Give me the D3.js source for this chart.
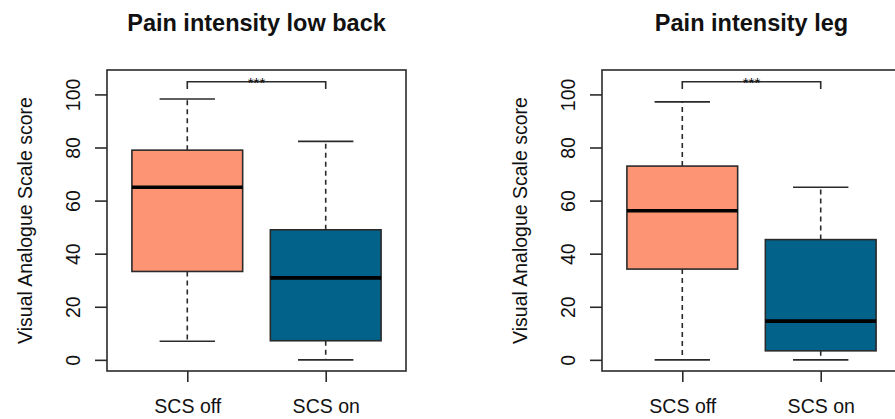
<!DOCTYPE html>
<html>
<head>
<meta charset="utf-8">
<script src="https://cdn.jsdelivr.net/npm/d3@7"></script>
<style>
  body { margin: 0; background: #fff; }
  svg text { font-family: "Liberation Sans", Arial, sans-serif; fill: #111; }
</style>
</head>
<body>
<div id="chart"></div>
<script>
// data
const groups = ["SCS off", "SCS on"];
const panelTitles = ["Pain intensity low back", "Pain intensity leg"];
const yLabel = "Visual Analogue Scale score";
const yTicks = [0, 20, 40, 60, 80, 100];
const sigLabel = "***";

// [lower whisker, Q1, median, Q3, upper whisker] per group
const lowBackStats = [[7, 33.3, 65, 79, 98.3], [0, 7.2, 30.9, 49, 82.3]];
const legStats = [[0, 34.2, 56.2, 73, 97.2], [0, 3.4, 14.6, 45.3, 65]];
const panelStats = [lowBackStats, legStats];

const boxColors = ["#fd9574", "#02628a"];

const width = 895, height = 419;
const plotW = 299, plotH = 301;
const plotTop = 70;
const plotLefts = [107, 602];
const lineCol = "#2a2a2a";
const lw = 1.6;

const svg = d3.select("#chart")
  .append("svg")
  .attr("width", width)
  .attr("height", height);

svg.append("rect").attr("width", width).attr("height", height).attr("fill", "#fff");

// R style: xlim 0.5..2.5, ylim 0..105, each padded 4%
const x = d3.scaleLinear().domain([0.42, 2.58]).range([0, plotW]);
const y = d3.scaleLinear().domain([-4.2, 109.2]).range([plotH, 0]);

panelStats.forEach((stats, p) => {
  const g = svg.append("g")
    .attr("transform", "translate(" + plotLefts[p] + "," + plotTop + ")");

  // title
  svg.append("text")
    .attr("x", plotLefts[p] + plotW / 2)
    .attr("y", 31)
    .attr("text-anchor", "middle")
    .attr("font-weight", "bold")
    .attr("font-size", "23.5px")
    .text(panelTitles[p]);

  // y axis title
  svg.append("text")
    .attr("transform", "translate(" + (plotLefts[p] - 75) + "," + (plotTop + plotH / 2) + ") rotate(-90)")
    .attr("text-anchor", "middle")
    .attr("font-size", "19.5px")
    .attr("fill", "#222")
    .text(yLabel);

  // boxes
  stats.forEach((s, i) => {
    const cx = x(i + 1);
    const bw = x(0.8) - x(0);
    const cw = x(0.4) - x(0);
    const box = g.append("g");

    // whiskers
    box.append("line")
      .attr("x1", cx).attr("x2", cx)
      .attr("y1", y(s[3])).attr("y2", y(s[4]))
      .attr("stroke", lineCol).attr("stroke-width", lw)
      .attr("stroke-dasharray", "5,4");
    box.append("line")
      .attr("x1", cx).attr("x2", cx)
      .attr("y1", y(s[1])).attr("y2", y(s[0]))
      .attr("stroke", lineCol).attr("stroke-width", lw)
      .attr("stroke-dasharray", "5,4");

    // caps
    [s[0], s[4]].forEach(v => {
      box.append("line")
        .attr("x1", cx - cw / 2).attr("x2", cx + cw / 2)
        .attr("y1", y(v)).attr("y2", y(v))
        .attr("stroke", lineCol).attr("stroke-width", lw);
    });

    box.append("rect")
      .attr("x", cx - bw / 2)
      .attr("y", y(s[3]))
      .attr("width", bw)
      .attr("height", y(s[1]) - y(s[3]))
      .attr("fill", boxColors[i])
      .attr("stroke", lineCol)
      .attr("stroke-width", lw);

    // median
    box.append("line")
      .attr("x1", cx - bw / 2).attr("x2", cx + bw / 2)
      .attr("y1", y(s[2])).attr("y2", y(s[2]))
      .attr("stroke", "#000").attr("stroke-width", 3.6);
  });

  // significance bracket
  g.append("path")
    .attr("d", "M" + x(1) + "," + y(102) + "V" + y(104.8) + "H" + x(2) + "V" + y(102))
    .attr("fill", "none")
    .attr("stroke", lineCol)
    .attr("stroke-width", lw);
  g.append("text")
    .attr("x", (x(1) + x(2)) / 2)
    .attr("y", y(104.8) + 6.5)
    .attr("text-anchor", "middle")
    .attr("font-size", "15px")
    .attr("fill", "#333")
    .text(sigLabel);

  // plot frame
  g.append("rect")
    .attr("width", plotW).attr("height", plotH)
    .attr("fill", "none")
    .attr("stroke", lineCol)
    .attr("stroke-width", lw);

  // y axis
  const yAxis = g.append("g")
    .call(d3.axisLeft(y).tickValues(yTicks).tickSize(12).tickSizeOuter(0).tickPadding(0));
  yAxis.select(".domain").remove();
  yAxis.attr("font-family", null);
  yAxis.selectAll(".tick line").attr("stroke", lineCol).attr("stroke-width", lw);
  yAxis.selectAll(".tick text")
    .attr("x", null).attr("dy", null)
    .attr("transform", "translate(-27,0) rotate(-90)")
    .attr("text-anchor", "middle")
    .attr("font-size", "19.5px")
    .attr("fill", "#222");

  // x axis
  const xAxis = g.append("g")
    .attr("transform", "translate(0," + plotH + ")")
    .call(d3.axisBottom(x).tickValues([1, 2]).tickSize(11).tickSizeOuter(0)
      .tickFormat(d => groups[d - 1]));
  xAxis.select(".domain").remove();
  xAxis.attr("font-family", null);
  xAxis.selectAll(".tick line").attr("stroke", lineCol).attr("stroke-width", lw);
  xAxis.selectAll(".tick text")
    .attr("y", 42).attr("dy", null)
    .attr("font-size", "19.5px")
    .attr("fill", "#222");
});
</script>
</body>
</html>
